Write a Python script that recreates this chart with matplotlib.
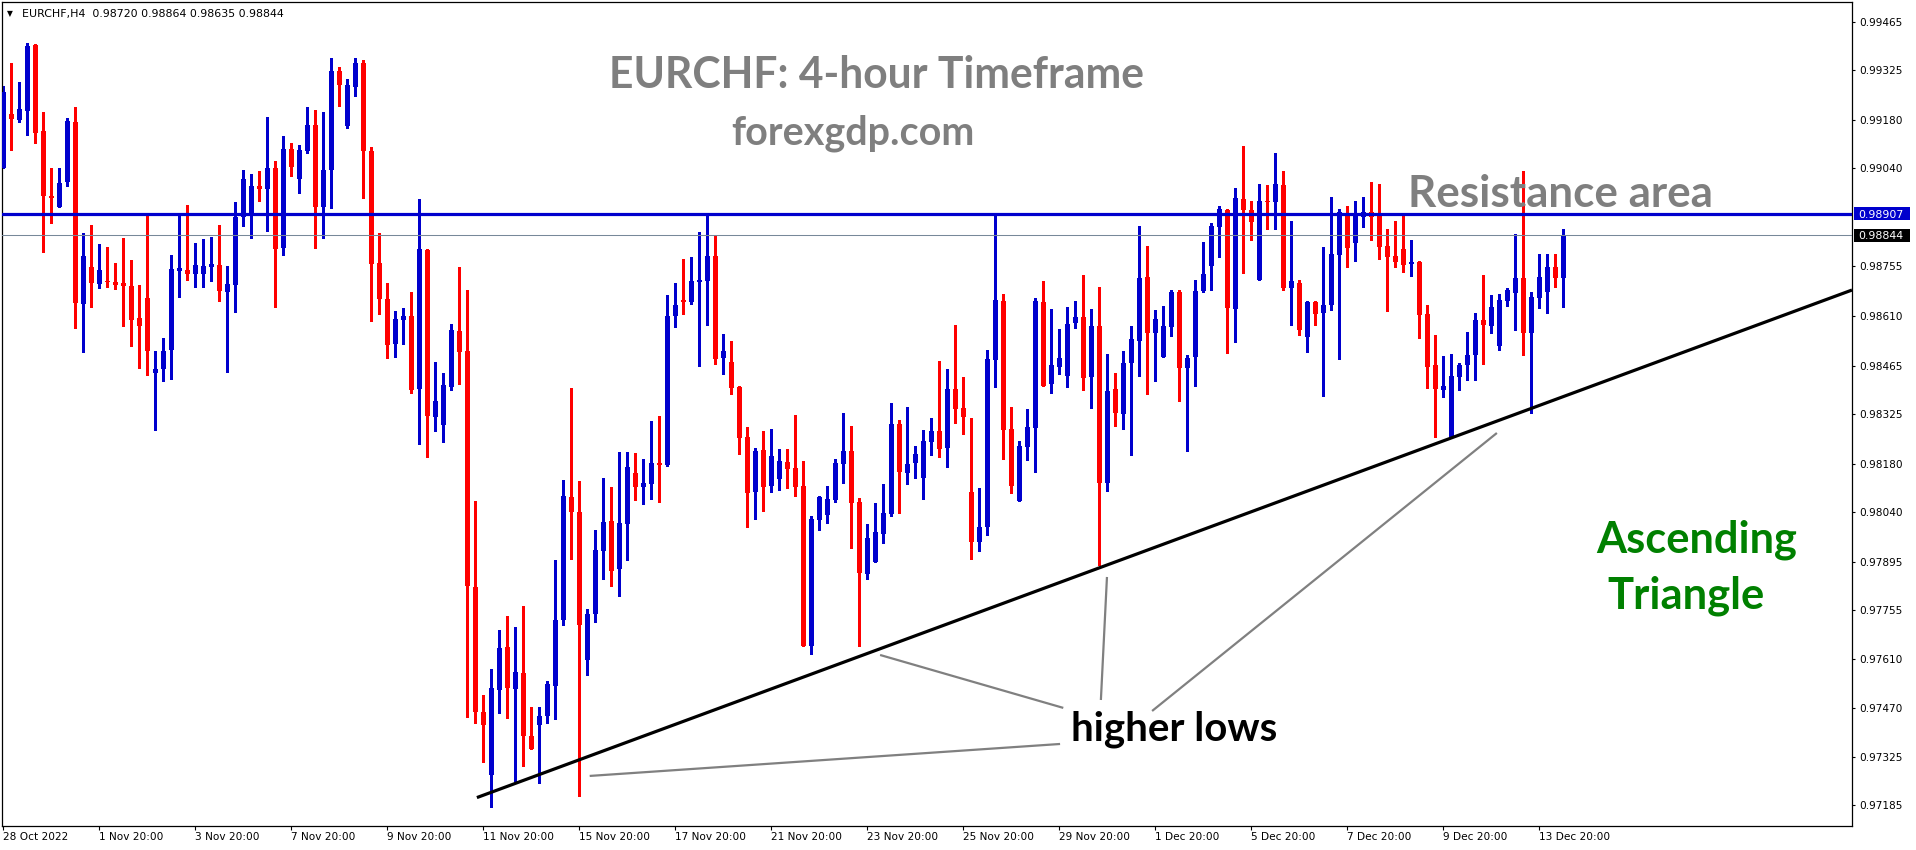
import matplotlib
matplotlib.use("Agg")
import matplotlib.pyplot as plt
from matplotlib.patches import Rectangle
import numpy as np

# ---------------- data (EURCHF H4 OHLC) ----------------
opens = [
    0.99039, 0.99197, 0.99180, 0.99206, 0.99398, 0.99148, 0.98959, 0.98928, 0.99000, 0.99175,
    0.98644, 0.98753, 0.98703, 0.98711, 0.98709, 0.98706, 0.98698, 0.98605, 0.98663, 0.98445,
    0.98455, 0.98510, 0.98741, 0.98743, 0.98732, 0.98732, 0.98753, 0.98758, 0.98680, 0.98700,
    0.98897, 0.98906, 0.98988, 0.98979, 0.99039, 0.98806, 0.99095, 0.99007, 0.99090, 0.99166,
    0.98927, 0.99033, 0.99323, 0.99163, 0.99275, 0.99346, 0.99090, 0.98764, 0.98660, 0.98527,
    0.98597, 0.98610, 0.98398, 0.98801, 0.98315, 0.98291, 0.98404, 0.98565, 0.98507, 0.97822,
    0.97457, 0.97274, 0.97521, 0.97646, 0.97524, 0.97570, 0.97388, 0.97419, 0.97445, 0.97534,
    0.97726, 0.98082, 0.98040, 0.97608, 0.97741, 0.97926, 0.98014, 0.97872, 0.98005, 0.98152,
    0.98111, 0.98120, 0.98181, 0.98175, 0.98609, 0.98657, 0.98651, 0.98707, 0.98712, 0.98784,
    0.98488, 0.98475, 0.98403, 0.98256, 0.98098, 0.98219, 0.98116, 0.98135, 0.98185, 0.98168,
    0.98115, 0.97650, 0.98016, 0.98030, 0.98074, 0.98179, 0.98217, 0.98069, 0.97859, 0.97895,
    0.97975, 0.98033, 0.98295, 0.98154, 0.98181, 0.98139, 0.98244, 0.98275, 0.98224, 0.98397,
    0.98343, 0.98098, 0.97953, 0.97996, 0.98481, 0.98653, 0.98281, 0.98071, 0.98229, 0.98284,
    0.98649, 0.98411, 0.98462, 0.98436, 0.98588, 0.98606, 0.98433, 0.98580, 0.98124, 0.98397,
    0.98325, 0.98474, 0.98538, 0.98724, 0.98561, 0.98491, 0.98576, 0.98679, 0.98459, 0.98491,
    0.98682, 0.98755, 0.98867, 0.98918, 0.98630, 0.98949, 0.98918, 0.98713, 0.98945, 0.98942,
    0.98991, 0.98692, 0.98705, 0.98547, 0.98650, 0.98619, 0.98640, 0.98787, 0.98901, 0.98822,
    0.98898, 0.98911, 0.98901, 0.98813, 0.98784, 0.98804, 0.98761, 0.98767, 0.98615, 0.98466,
    0.98394, 0.98253, 0.98432, 0.98466, 0.98496, 0.98597, 0.98581, 0.98523, 0.98654, 0.98677,
    0.98721, 0.98561, 0.98663, 0.98680, 0.98751, 0.98720,
]
highs = [
    0.99279, 0.99347, 0.99291, 0.99405, 0.99400, 0.99204, 0.99041, 0.99041, 0.99185, 0.99219,
    0.98850, 0.98874, 0.98819, 0.98811, 0.98765, 0.98837, 0.98772, 0.98700, 0.98903, 0.98509,
    0.98544, 0.98787, 0.98903, 0.98932, 0.98821, 0.98833, 0.98840, 0.98874, 0.98755, 0.98942,
    0.99034, 0.99023, 0.99031, 0.99189, 0.99060, 0.99133, 0.99114, 0.99106, 0.99217, 0.99209,
    0.99202, 0.99360, 0.99335, 0.99299, 0.99360, 0.99353, 0.99101, 0.98851, 0.98705, 0.98624,
    0.98632, 0.98680, 0.98951, 0.98804, 0.98475, 0.98445, 0.98587, 0.98751, 0.98685, 0.98072,
    0.97507, 0.97583, 0.97695, 0.97737, 0.97704, 0.97766, 0.97472, 0.97472, 0.97547, 0.97898,
    0.98133, 0.98401, 0.98130, 0.97758, 0.97988, 0.98139, 0.98111, 0.98215, 0.98215, 0.98210,
    0.98193, 0.98303, 0.98318, 0.98672, 0.98705, 0.98774, 0.98782, 0.98853, 0.98903, 0.98845,
    0.98557, 0.98537, 0.98406, 0.98285, 0.98224, 0.98275, 0.98281, 0.98222, 0.98222, 0.98321,
    0.98187, 0.98027, 0.98086, 0.98116, 0.98193, 0.98328, 0.98289, 0.98081, 0.98004, 0.98066,
    0.98121, 0.98357, 0.98307, 0.98346, 0.98231, 0.98278, 0.98312, 0.98478, 0.98455, 0.98583,
    0.98433, 0.98314, 0.98110, 0.98510, 0.98903, 0.98673, 0.98344, 0.98246, 0.98339, 0.98661,
    0.98711, 0.98629, 0.98571, 0.98635, 0.98653, 0.98729, 0.98630, 0.98693, 0.98499, 0.98445,
    0.98509, 0.98579, 0.98872, 0.98813, 0.98627, 0.98639, 0.98685, 0.98685, 0.98496, 0.98714,
    0.98824, 0.98879, 0.98930, 0.98921, 0.98981, 0.99104, 0.98944, 0.98994, 0.98991, 0.99085,
    0.99032, 0.98887, 0.98713, 0.98653, 0.98653, 0.98809, 0.98955, 0.98921, 0.98929, 0.98944,
    0.98956, 0.98998, 0.98993, 0.98862, 0.98885, 0.98903, 0.98830, 0.98770, 0.98641, 0.98554,
    0.98493, 0.98498, 0.98473, 0.98562, 0.98617, 0.98728, 0.98670, 0.98673, 0.98690, 0.98848,
    0.99031, 0.98678, 0.98791, 0.98789, 0.98791, 0.98864,
]
lows = [
    0.99039, 0.99092, 0.99175, 0.99136, 0.99114, 0.98797, 0.98881, 0.98928, 0.98988, 0.98574,
    0.98506, 0.98637, 0.98690, 0.98693, 0.98687, 0.98580, 0.98522, 0.98457, 0.98438, 0.98278,
    0.98421, 0.98426, 0.98666, 0.98714, 0.98695, 0.98695, 0.98711, 0.98654, 0.98447, 0.98622,
    0.98872, 0.98835, 0.98944, 0.98858, 0.98635, 0.98787, 0.99017, 0.98966, 0.99084, 0.98808,
    0.98836, 0.98923, 0.99220, 0.99156, 0.99249, 0.98953, 0.98595, 0.98615, 0.98487, 0.98491,
    0.98529, 0.98384, 0.98238, 0.98198, 0.98274, 0.98243, 0.98395, 0.98412, 0.97443, 0.97426,
    0.97311, 0.97180, 0.97453, 0.97441, 0.97255, 0.97299, 0.97348, 0.97251, 0.97424, 0.97436,
    0.97710, 0.97902, 0.97214, 0.97564, 0.97720, 0.97845, 0.97824, 0.97795, 0.97898, 0.98073,
    0.98062, 0.98076, 0.98067, 0.98173, 0.98577, 0.98615, 0.98645, 0.98465, 0.98583, 0.98470,
    0.98441, 0.98382, 0.98208, 0.97996, 0.98019, 0.98042, 0.98098, 0.98103, 0.98108, 0.98087,
    0.97650, 0.97626, 0.97987, 0.98008, 0.98069, 0.98124, 0.97935, 0.97650, 0.97844, 0.97895,
    0.97950, 0.98028, 0.98035, 0.98120, 0.98137, 0.98076, 0.98205, 0.98200, 0.98171, 0.98299,
    0.98265, 0.97901, 0.97927, 0.97972, 0.98404, 0.98193, 0.98095, 0.98071, 0.98190, 0.98156,
    0.98407, 0.98386, 0.98441, 0.98404, 0.98575, 0.98394, 0.98343, 0.97885, 0.98100, 0.98290,
    0.98281, 0.98205, 0.98435, 0.98383, 0.98419, 0.98491, 0.98550, 0.98363, 0.98218, 0.98407,
    0.98678, 0.98685, 0.98782, 0.98503, 0.98535, 0.98734, 0.98831, 0.98713, 0.98863, 0.98863,
    0.98685, 0.98584, 0.98553, 0.98506, 0.98582, 0.98378, 0.98627, 0.98485, 0.98753, 0.98770,
    0.98869, 0.98830, 0.98774, 0.98625, 0.98753, 0.98738, 0.98725, 0.98546, 0.98400, 0.98256,
    0.98374, 0.98253, 0.98394, 0.98423, 0.98423, 0.98469, 0.98561, 0.98510, 0.98639, 0.98568,
    0.98497, 0.98326, 0.98633, 0.98619, 0.98694, 0.98635,
]
closes = [
    0.99262, 0.99184, 0.99212, 0.99395, 0.99143, 0.98960, 0.98954, 0.98997, 0.99178, 0.98648,
    0.98784, 0.98706, 0.98743, 0.98707, 0.98700, 0.98697, 0.98598, 0.98580, 0.98509, 0.98455,
    0.98508, 0.98746, 0.98750, 0.98732, 0.98758, 0.98756, 0.98762, 0.98683, 0.98703, 0.98897,
    0.99008, 0.98988, 0.98979, 0.99039, 0.98803, 0.99095, 0.99044, 0.99093, 0.99166, 0.98926,
    0.99034, 0.99323, 0.99283, 0.99282, 0.99346, 0.99089, 0.98760, 0.98660, 0.98524, 0.98601,
    0.98608, 0.98395, 0.98804, 0.98319, 0.98362, 0.98408, 0.98568, 0.98504, 0.97824, 0.97456,
    0.97420, 0.97528, 0.97644, 0.97527, 0.97572, 0.97386, 0.97348, 0.97445, 0.97538, 0.97726,
    0.98086, 0.98040, 0.97710, 0.97743, 0.97928, 0.98010, 0.97868, 0.98008, 0.98169, 0.98111,
    0.98122, 0.98181, 0.98175, 0.98610, 0.98640, 0.98651, 0.98710, 0.98714, 0.98784, 0.98484,
    0.98508, 0.98401, 0.98255, 0.98095, 0.98217, 0.98113, 0.98202, 0.98187, 0.98164, 0.98113,
    0.97650, 0.98019, 0.98084, 0.98077, 0.98183, 0.98217, 0.98066, 0.97863, 0.97964, 0.97982,
    0.98037, 0.98295, 0.98156, 0.98179, 0.98208, 0.98246, 0.98275, 0.98221, 0.98397, 0.98338,
    0.98316, 0.97953, 0.97994, 0.98484, 0.98656, 0.98278, 0.98116, 0.98231, 0.98285, 0.98653,
    0.98407, 0.98467, 0.98486, 0.98585, 0.98606, 0.98430, 0.98580, 0.98124, 0.98391, 0.98328,
    0.98474, 0.98543, 0.98721, 0.98561, 0.98601, 0.98579, 0.98679, 0.98459, 0.98487, 0.98682,
    0.98732, 0.98870, 0.98921, 0.98634, 0.98952, 0.98918, 0.98884, 0.98944, 0.98941, 0.98994,
    0.98692, 0.98712, 0.98569, 0.98650, 0.98616, 0.98642, 0.98790, 0.98913, 0.98806, 0.98901,
    0.98911, 0.98898, 0.98811, 0.98782, 0.98767, 0.98757, 0.98766, 0.98612, 0.98462, 0.98397,
    0.98405, 0.98434, 0.98466, 0.98496, 0.98597, 0.98583, 0.98636, 0.98656, 0.98685, 0.98721,
    0.98559, 0.98665, 0.98722, 0.98751, 0.98719, 0.98844,
]

x_tick_bars = [0, 12, 24, 36, 48, 60, 72, 84, 96, 108, 120, 132, 144, 156, 168, 180, 192]
x_tick_labels = ["28 Oct 2022", "1 Nov 20:00", "3 Nov 20:00", "7 Nov 20:00", "9 Nov 20:00",
                 "11 Nov 20:00", "15 Nov 20:00", "17 Nov 20:00", "21 Nov 20:00", "23 Nov 20:00",
                 "25 Nov 20:00", "29 Nov 20:00", "1 Dec 20:00", "5 Dec 20:00", "7 Dec 20:00",
                 "9 Dec 20:00", "13 Dec 20:00"]
y_tick_values = [0.99465, 0.99325, 0.99180, 0.99040, 0.98755, 0.98610, 0.98465, 0.98325,
                 0.98180, 0.98040, 0.97895, 0.97755, 0.97610, 0.97470, 0.97325, 0.97185]

resistance_level = 0.98907
last_price = 0.98844
trend_bars = [59.2, 231.09]
trend_prices = [0.97208, 0.98685]
# grey pointer lines to the "higher lows" label: (bar, price) start -> end
pointer_x0 = [73.3, 109.6, 137.96, 186.7]
pointer_y0 = [0.97271, 0.97623, 0.97850, 0.98269]
pointer_x1 = [132.1, 132.5, 137.2, 143.6]
pointer_y1 = [0.97364, 0.97469, 0.97492, 0.97460]

header_text = "EURCHF,H4  0.98720 0.98864 0.98635 0.98844"

# ---------------- figure ----------------
W, H = 1916, 850
L, R, T, B = 2, 1852, 2, 826
BLUE = "#0000CD"
RED = "#FF0000"
GREY = "#7F7F7F"

fig = plt.figure(figsize=(W / 100, H / 100), dpi=100)
fig.patch.set_facecolor("white")
ax = fig.add_axes([L / W, 1 - B / H, (R - L) / W, (B - T) / H])
ax.set_facecolor("white")
ax.set_xlim(-0.1625, 231.09)
ax.set_ylim(0.971253, 0.995232)

o = np.array(opens); h = np.array(highs); l = np.array(lows); c = np.array(closes)
xs = np.arange(len(o))
up = c > o
cols = np.where(up, BLUE, RED)

ax.vlines(xs, l, h, colors=cols, linewidth=0.8, zorder=2, antialiased=False)
body_bottom = np.minimum(o, c)
body_height = np.maximum(np.abs(c - o), 0.000032)
ax.bar(xs, body_height, bottom=body_bottom, width=0.65, color=cols, linewidth=0,
       zorder=3, antialiased=False)

ax.axhline(last_price, color="#778899", linewidth=0.75, zorder=4)
ax.axhline(resistance_level, color=BLUE, linewidth=2.3, zorder=5)
ax.plot(trend_bars, trend_prices, color="black", linewidth=2.3, zorder=6,
        solid_capstyle="butt")
for x0, y0, x1, y1 in zip(pointer_x0, pointer_y0, pointer_x1, pointer_y1):
    ax.plot([x0, x1], [y0, y1], color="#808080", linewidth=1.6, zorder=6,
            solid_capstyle="butt")

for s in ax.spines.values():
    s.set_color("black")
    s.set_linewidth(0.9)

# axes ticks
ax.yaxis.tick_right()
ax.set_yticks(y_tick_values)
ax.set_yticklabels([f"{v:.5f}" for v in y_tick_values])
ax.tick_params(axis="y", direction="out", length=2.5, width=0.8, pad=3,
               labelsize=7.6, colors="black")
ax.set_xticks(x_tick_bars)
ax.set_xticklabels(x_tick_labels)
ax.tick_params(axis="x", direction="out", length=3, width=0.8, pad=1.5,
               labelsize=7.6, colors="black")
for lab in ax.get_xticklabels():
    lab.set_horizontalalignment("left")

# price boxes on the right scale
fig.canvas.draw()
renderer = fig.canvas.get_renderer()


def price_box(price, face):
    ypix = ax.transData.transform((0, price))[1]
    bh = 13
    fig.patches.append(Rectangle((1854 / W, (ypix - bh / 2) / H), 56 / W, bh / H,
                                 transform=fig.transFigure, facecolor=face,
                                 edgecolor="none", zorder=10))
    fig.text(1858 / W, ypix / H, f"{price:.5f}", color="white", fontsize=7.9,
             ha="left", va="center_baseline", zorder=11)


price_box(resistance_level, BLUE)
price_box(last_price, "black")


def fit_text(x_px, base_px, s, width_px, **kw):
    t = fig.text(x_px / W, 1 - base_px / H, s, ha="left", va="baseline", **kw)
    w = t.get_window_extent(renderer).width
    t.set_fontsize(t.get_fontsize() * width_px / w)
    return t


fit_text(609, 88, "EURCHF: 4-hour Timeframe", 536, family="Lato", weight="bold",
         color=GREY, fontsize=30)
fit_text(731, 144, "forexgdp.com", 243, family="Lato", weight="bold",
         color=GREY, fontsize=24)
fit_text(1408, 207, "Resistance area", 305, family="Lato", weight="bold",
         color=GREY, fontsize=28)
fit_text(1596, 552, "Ascending", 201, family="Lato", weight="bold",
         color="#008000", fontsize=28)
fit_text(1607, 608, "Triangle", 157, family="Lato", weight="bold",
         color="#008000", fontsize=28)
fit_text(1071, 741, "higher lows", 206, family="Lato", weight="bold",
         color="black", fontsize=26)

# header line
fig.text(7 / W, 1 - 16 / H, "\u25BC", fontsize=5.5, color="black", ha="left",
         va="baseline", family="DejaVu Sans")
fit_text(21.7, 16.5, header_text, 264, family="DejaVu Sans", color="black",
         fontsize=8)

fig.savefig("out.png", dpi=100, facecolor="white")
